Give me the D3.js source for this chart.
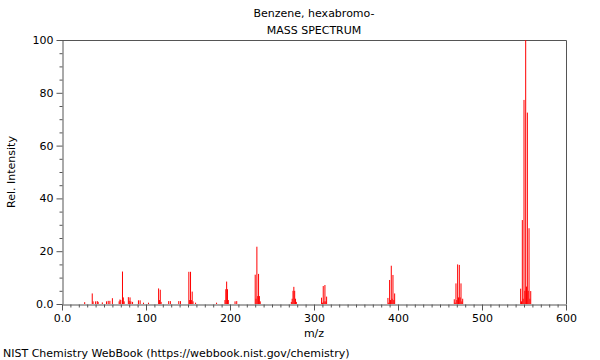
<!DOCTYPE html>
<html>
<head>
<meta charset="utf-8">
<script src="https://cdn.jsdelivr.net/npm/d3@7"></script>
<style>
  html, body { margin: 0; padding: 0; background: #fff; }
  svg { display: block; font-family: "DejaVu Sans", sans-serif; }
</style>
</head>
<body>
<script>
// ---- data (m/z, relative intensity) ----
const mzValues = [
  27, 36, 37, 40, 42, 43, 48, 53, 55, 57, 60, 68, 69, 70, 72, 73, 74, 79, 80, 81, 82, 84,
  91, 93, 97, 103, 115, 116, 117, 118, 127, 129, 139, 141, 151, 152, 153, 154, 155, 156, 159, 184,
  194, 195, 196, 197, 198, 206, 208, 230, 231, 232, 233, 234, 235, 236,
  273, 274, 275, 276, 277, 278, 279, 309, 310, 311, 312, 313, 314, 315,
  388, 389, 390, 391, 392, 393, 394, 395, 396,
  467, 468, 469, 470, 471, 472, 473, 474, 475, 476, 477,
  546, 547, 548, 549, 550, 551, 552, 553, 554, 555, 556, 557, 558
];
const intensities = [
  0.7, 4.0, 1.0, 1.0, 1.1, 0.8, 0.6, 1.0, 1.2, 1.2, 2.2, 1.0, 1.7, 1.5, 12.3, 2.5, 1.0, 2.6, 1.2, 2.5, 1.0, 0.8,
  1.4, 1.4, 0.5, 0.5, 5.9, 1.5, 5.4, 0.8, 1.1, 1.1, 1.1, 1.1, 12.2, 1.5, 12.2, 1.5, 4.7, 1.0, 0.5, 0.5,
  1.5, 5.6, 8.5, 5.6, 1.5, 1.0, 1.1, 11.1, 2.0, 21.7, 3.0, 11.4, 3.0, 1.0,
  0.8, 2.0, 5.0, 6.5, 5.0, 2.0, 0.8, 2.4, 0.5, 6.8, 1.0, 7.2, 1.0, 2.8,
  2.3, 0.5, 9.1, 1.5, 14.5, 2.0, 11.0, 1.5, 4.0,
  1.8, 0.5, 7.8, 1.5, 15.0, 2.5, 14.8, 2.5, 7.8, 1.0, 2.0,
  5.8, 1.0, 31.8, 2.0, 77.3, 5.0, 100, 6.6, 72.5, 5.0, 28.7, 2.0, 4.9
];
const xMajorTicks = [0, 100, 200, 300, 400, 500, 600];
const xTickLabels = ["0.0", "100", "200", "300", "400", "500", "600"];
const yMajorTicks = [0, 20, 40, 60, 80, 100];
const yTickLabels = ["0.0", "20", "40", "60", "80", "100"];
const titleLines = ["Benzene, hexabromo-", "MASS SPECTRUM"];
const xLabel = "m/z";
const yLabel = "Rel. Intensity";
const footer = "NIST Chemistry WebBook (https://webbook.nist.gov/chemistry)";

const peaks = mzValues.map((m, i) => ({ mz: m, v: intensities[i] }));

// ---- layout ----
const W = 600, H = 360;
const m = { left: 62, top: 40, right: 34, bottom: 56 };
const pw = W - m.left - m.right, ph = H - m.top - m.bottom;
const axisColor = "#555";

const svg = d3.select("body").append("svg").attr("width", W).attr("height", H);
svg.append("rect").attr("width", W).attr("height", H).attr("fill", "#fff");

const x = d3.scaleLinear().domain([0, 600]).range([m.left, m.left + pw]);
const y = d3.scaleLinear().domain([0, 100]).range([m.top + ph, m.top]);

// frame (top and right)
svg.append("path")
  .attr("d", `M${m.left},${m.top + 0.5}H${m.left + pw + 0.5}V${m.top + ph}`)
  .attr("fill", "none").attr("stroke", axisColor).attr("stroke-width", 1);

// peaks
svg.append("g").selectAll("rect").data(peaks).join("rect")
  .attr("x", d => x(d.mz) - 0.5)
  .attr("width", 1)
  .attr("y", d => y(d.v))
  .attr("height", d => y(0) - y(d.v))
  .attr("fill", "#ff0000");

// x axis
const xMinor = d3.range(0, 601, 10).filter(v => v % 100 !== 0);
const gx = svg.append("g").attr("transform", `translate(0,${m.top + ph + 0.5})`);
gx.call(d3.axisBottom(x).tickValues(xMinor).tickSize(3).tickFormat(""))
  .call(g => g.select(".domain").remove());
const gx2 = svg.append("g").attr("transform", `translate(0,${m.top + ph + 0.5})`);
gx2.call(d3.axisBottom(x).tickValues(xMajorTicks).tickSize(6).tickSizeOuter(0).tickPadding(4)
    .tickFormat((d, i) => xTickLabels[i]));
[gx, gx2].forEach(g => {
  g.selectAll("line").attr("stroke", axisColor);
  g.select(".domain").attr("stroke", axisColor);
  g.selectAll("text").attr("font-size", 11).attr("fill", "#000").attr("font-family", "DejaVu Sans");
});

// y axis
const yMinor = d3.range(0, 101, 5).filter(v => v % 20 !== 0);
const gy = svg.append("g").attr("transform", `translate(${m.left + 0.5},0)`);
gy.call(d3.axisLeft(y).tickValues(yMinor).tickSize(3).tickFormat(""))
  .call(g => g.select(".domain").remove());
const gy2 = svg.append("g").attr("transform", `translate(${m.left + 0.5},0)`);
gy2.call(d3.axisLeft(y).tickValues(yMajorTicks).tickSize(6).tickSizeOuter(0).tickPadding(3)
    .tickFormat((d, i) => yTickLabels[i]));
[gy, gy2].forEach(g => {
  g.selectAll("line").attr("stroke", axisColor);
  g.select(".domain").attr("stroke", axisColor);
  g.selectAll("text").attr("font-size", 11).attr("fill", "#000").attr("font-family", "DejaVu Sans");
});

// titles
svg.append("text").attr("x", m.left + pw / 2).attr("y", 17).attr("text-anchor", "middle")
  .attr("font-size", 11).text(titleLines[0]);
svg.append("text").attr("x", m.left + pw / 2).attr("y", 34).attr("text-anchor", "middle")
  .attr("font-size", 11).text(titleLines[1]);
svg.append("text").attr("x", m.left + pw / 2).attr("y", 337).attr("text-anchor", "middle")
  .attr("font-size", 11).text(xLabel);
svg.append("text").attr("transform", `translate(15,${m.top + ph / 2}) rotate(-90)`)
  .attr("text-anchor", "middle").attr("font-size", 11).text(yLabel);
svg.append("text").attr("x", 3).attr("y", 357).attr("font-size", 11).text(footer);
</script>
</body>
</html>
